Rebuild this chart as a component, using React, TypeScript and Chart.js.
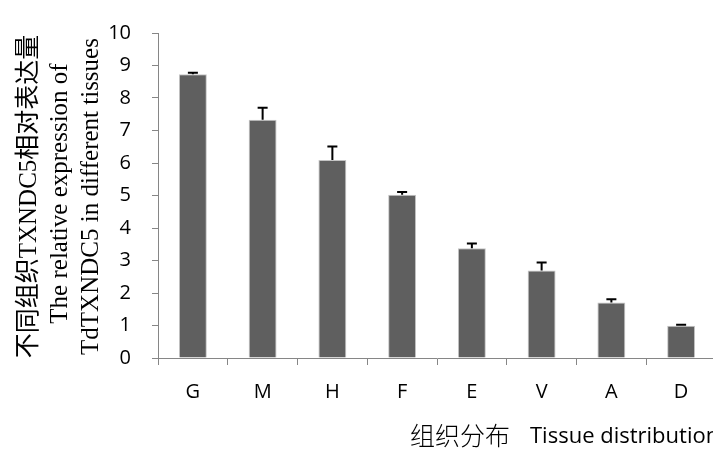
import React, { useEffect, useRef } from "react";
import { Chart, registerables } from "chart.js";

Chart.register(...registerables);

const categories = ["G", "M", "H", "F", "E", "V", "A", "D"];
const values = [8.73, 7.33, 6.09, 5.02, 3.38, 2.69, 1.71, 0.99];
const errors = [0.05, 0.37, 0.42, 0.09, 0.14, 0.25, 0.1, 0.03];
const yTitleLines = [
  "不同组织TXNDC5相对表达量",
  "The relative expression of",
  "TdTXNDC5 in different tissues",
];
const xTitleCn = "组织分布";
const xTitleEn = "Tissue distribution";

const errorBarPlugin = {
  id: "errorBars",
  afterDatasetsDraw(chart: any) {
    const ctx = chart.ctx;
    const meta = chart.getDatasetMeta(0);
    const ys = chart.scales.y;
    ctx.save();
    ctx.strokeStyle = "#000";
    ctx.lineWidth = 2;
    meta.data.forEach((bar: any, i: number) => {
      const x = bar.x;
      const yb = ys.getPixelForValue(values[i]);
      const yt = ys.getPixelForValue(values[i] + errors[i]);
      ctx.beginPath();
      ctx.moveTo(x, yb);
      ctx.lineTo(x, yt);
      ctx.moveTo(x - 5, yt);
      ctx.lineTo(x + 5, yt);
      ctx.stroke();
    });
    ctx.restore();
  },
};

const titlePlugin = {
  id: "customTitles",
  afterDraw(chart: any) {
    const ctx = chart.ctx;
    const area = chart.chartArea;
    const midY = (area.top + area.bottom) / 2;
    ctx.save();
    ctx.fillStyle = "#000";
    const xs = [36, 67, 98];
    const offs = [1, -2, 1];
    yTitleLines.forEach((line, i) => {
      ctx.save();
      ctx.translate(xs[i], midY + offs[i]);
      ctx.rotate(-Math.PI / 2);
      ctx.font = "25px 'Liberation Serif', 'Noto Sans CJK SC'";
      ctx.textAlign = "center";
      ctx.textBaseline = "alphabetic";
      ctx.fillText(line, 0, 0);
      ctx.restore();
    });
    ctx.font = "300 25px 'Noto Sans CJK SC'";
    ctx.textAlign = "left";
    ctx.textBaseline = "middle";
    ctx.fillText(xTitleCn, 410, 435);
    ctx.font = "22px 'Open Sans'";
    ctx.textBaseline = "alphabetic";
    ctx.fillText(xTitleEn, 530, 443);
    ctx.restore();
  },
};

export default function App() {
  const ref = useRef<HTMLCanvasElement>(null);
  useEffect(() => {
    const canvas = ref.current!;
    const chart = new Chart(canvas, {
      type: "bar",
      data: {
        labels: categories,
        datasets: [
          {
            data: values,
            backgroundColor: "#5f5f5f",
            borderColor: "#c4c4c4",
            borderWidth: 1,
            categoryPercentage: 1,
            barPercentage: 0.4,
          },
        ],
      },
      options: {
        responsive: false,
        animation: false,
        devicePixelRatio: 1,
        layout: { padding: { top: 20, right: 4, left: 0, bottom: 0 } },
        plugins: { legend: { display: false }, tooltip: { enabled: false } },
        scales: {
          x: {
            afterFit: (s: any) => {
              s.height = 91;
            },
            grid: {
              display: true,
              offset: true,
              drawOnChartArea: false,
              drawTicks: true,
              tickLength: 7,
              color: "#868686",
            },
            border: { display: true, color: "#868686", width: 1 },
            ticks: {
              color: "#000",
              font: { family: "'Open Sans'", size: 20 },
              padding: 15,
              maxRotation: 0,
            },
          },
          y: {
            min: 0,
            max: 10,
            afterFit: (s: any) => {
              s.width = 158;
            },
            grid: {
              display: true,
              drawOnChartArea: false,
              drawTicks: true,
              tickLength: 6,
              color: "#868686",
            },
            border: { display: true, color: "#868686", width: 1 },
            ticks: {
              stepSize: 1,
              color: "#000",
              font: { family: "'Open Sans'", size: 20 },
              padding: 21,
            },
          },
        },
      },
      plugins: [errorBarPlugin, titlePlugin],
    });
    return () => chart.destroy();
  }, []);
  return (
    <div
      style={{
        position: "fixed",
        left: 0,
        top: 0,
        width: 713,
        height: 449,
        overflow: "hidden",
        background: "#fff",
      }}
    >
      <canvas ref={ref} width={720} height={449} style={{ display: "block" }} />
    </div>
  );
}
